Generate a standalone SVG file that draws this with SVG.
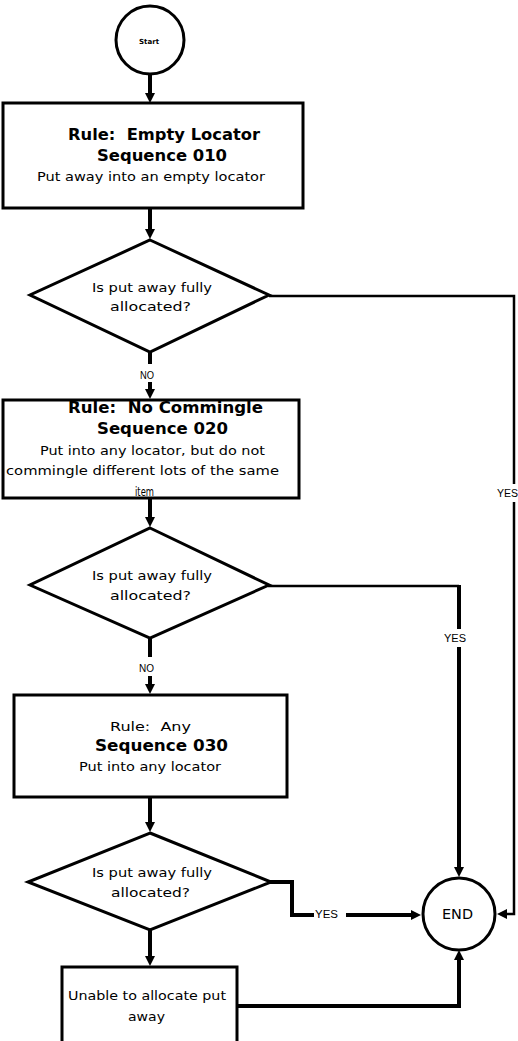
<svg xmlns="http://www.w3.org/2000/svg" width="518" height="1041" viewBox="0 0 518 1041">
  <style>
    .shape { fill: #fff; stroke: #000; stroke-width: 3; }
    .conn { fill: none; stroke: #000; stroke-linecap: butt; stroke-linejoin: miter; }
    .thick { stroke-width: 4; }
    .thin { stroke-width: 2.5; }
    text { font-family: "DejaVu Sans", "Liberation Sans", sans-serif; fill: #000; text-anchor: start; white-space: pre; }
    .title { font-size: 15px; font-weight: bold; }
    .body { font-size: 13px; }
    .lbl { font-family: "Liberation Sans", Arial, sans-serif; font-size: 10px; }
  </style>
  <defs>
    <marker id="arrow" markerUnits="userSpaceOnUse" markerWidth="11" markerHeight="10" refX="4" refY="5" orient="auto">
      <path d="M0,0 L10,5 L0,10 Z" fill="#000"/>
    </marker>
  </defs>

  <rect x="0" y="0" width="518" height="1041" fill="#fff"/>

  <!-- connectors -->
  <g id="connectors">
    <path class="conn thick" d="M150,75 V97" marker-end="url(#arrow)"/>
    <path class="conn thick" d="M150,209 V233" marker-end="url(#arrow)"/>
    <path class="conn thick" d="M150,351 V364"/>
    <path class="conn thick" d="M150,382 V393" marker-end="url(#arrow)"/>
    <path class="conn thin" d="M269,296 H514 V484"/>
    <path class="conn thin" d="M514,502 V914 H503" marker-end="url(#arrow)"/>
    <path class="conn thick" d="M150,499 V521" marker-end="url(#arrow)"/>
    <path class="conn thick" d="M150,637 V657"/>
    <path class="conn thick" d="M150,676 V688" marker-end="url(#arrow)"/>
    <path class="conn thin" d="M268,586 H459"/>
    <path class="conn thick" d="M459,585 V629"/>
    <path class="conn thick" d="M459,647 V871" marker-end="url(#arrow)"/>
    <path class="conn thick" d="M150,798 V826" marker-end="url(#arrow)"/>
    <path class="conn thick" d="M270,882 H292 V915 H314"/>
    <path class="conn thick" d="M346,915 H415" marker-end="url(#arrow)"/>
    <path class="conn thick" d="M150,929 V960" marker-end="url(#arrow)"/>
    <path class="conn thick" d="M238,1006 H459 V956" marker-end="url(#arrow)"/>
    <text class="lbl" x="140" y="379" textLength="14" lengthAdjust="spacingAndGlyphs">NO</text>
    <text class="lbl" x="139" y="672" textLength="15" lengthAdjust="spacingAndGlyphs">NO</text>
    <text class="lbl" x="497" y="497" textLength="21" lengthAdjust="spacingAndGlyphs">YES</text>
    <text class="lbl" x="444" y="642" textLength="22" lengthAdjust="spacingAndGlyphs">YES</text>
    <text class="lbl" x="315" y="918" textLength="23" lengthAdjust="spacingAndGlyphs">YES</text>
  </g>

  <!-- start terminator -->
  <g id="start">
    <circle class="shape" cx="150" cy="40" r="34"/>
    <text x="139" y="44" style="font-size:7px;font-weight:bold" textLength="20" lengthAdjust="spacingAndGlyphs">Start</text>
  </g>

  <!-- rule 010 -->
  <g id="rule-empty-locator">
    <rect class="shape" x="3" y="103" width="300" height="105"/>
    <text class="title" x="68" y="140" textLength="192" lengthAdjust="spacingAndGlyphs">Rule:  Empty Locator</text>
    <text class="title" x="97" y="161" textLength="130" lengthAdjust="spacingAndGlyphs">Sequence 010</text>
    <text class="body" x="37" y="181" textLength="228" lengthAdjust="spacingAndGlyphs">Put away into an empty locator</text>
  </g>

  <!-- decision 1 -->
  <g id="decision-1">
    <polygon class="shape" points="150,240 269,295 150,352 30,295"/>
    <text class="body" x="92" y="292" textLength="120" lengthAdjust="spacingAndGlyphs">Is put away fully</text>
    <text class="body" x="110" y="311" textLength="81" lengthAdjust="spacingAndGlyphs">allocated?</text>
  </g>

  <!-- rule 020 -->
  <g id="rule-no-commingle">
    <rect class="shape" x="3" y="400" width="296" height="98"/>
    <text class="title" x="68" y="413" textLength="195" lengthAdjust="spacingAndGlyphs">Rule:  No Commingle</text>
    <text class="title" x="97" y="434" textLength="131" lengthAdjust="spacingAndGlyphs">Sequence 020</text>
    <text class="body" x="40" y="455" textLength="225" lengthAdjust="spacingAndGlyphs">Put into any locator, but do not</text>
    <text class="body" x="6" y="475" textLength="273" lengthAdjust="spacingAndGlyphs">commingle different lots of the same</text>
    <text class="body" x="135" y="496" textLength="19" lengthAdjust="spacingAndGlyphs">item</text>
  </g>

  <!-- decision 2 -->
  <g id="decision-2">
    <polygon class="shape" points="150,528 269,585 150,638 30,585"/>
    <text class="body" x="92" y="580" textLength="120" lengthAdjust="spacingAndGlyphs">Is put away fully</text>
    <text class="body" x="110" y="600" textLength="81" lengthAdjust="spacingAndGlyphs">allocated?</text>
  </g>

  <!-- rule 030 -->
  <g id="rule-any">
    <rect class="shape" x="14" y="695" width="273" height="102"/>
    <text class="body" x="110" y="731" textLength="81" lengthAdjust="spacingAndGlyphs">Rule:  Any</text>
    <text class="title" x="95" y="751" textLength="133" lengthAdjust="spacingAndGlyphs">Sequence 030</text>
    <text class="body" x="79" y="771" textLength="142" lengthAdjust="spacingAndGlyphs">Put into any locator</text>
  </g>

  <!-- decision 3 -->
  <g id="decision-3">
    <polygon class="shape" points="150,833 271,882 150,930 28,882"/>
    <text class="body" x="92" y="877" textLength="120" lengthAdjust="spacingAndGlyphs">Is put away fully</text>
    <text class="body" x="111" y="897" textLength="79" lengthAdjust="spacingAndGlyphs">allocated?</text>
  </g>

  <!-- failure outcome -->
  <g id="unable">
    <rect class="shape" x="62" y="967" width="175" height="80"/>
    <text class="body" x="68" y="1000" textLength="158" lengthAdjust="spacingAndGlyphs">Unable to allocate put</text>
    <text class="body" x="128" y="1021" textLength="37" lengthAdjust="spacingAndGlyphs">away</text>
  </g>

  <!-- end terminator -->
  <g id="end">
    <circle class="shape" cx="459" cy="914" r="36"/>
    <text x="442" y="919" style="font-size:14px" textLength="31" lengthAdjust="spacingAndGlyphs">END</text>
  </g>
</svg>
